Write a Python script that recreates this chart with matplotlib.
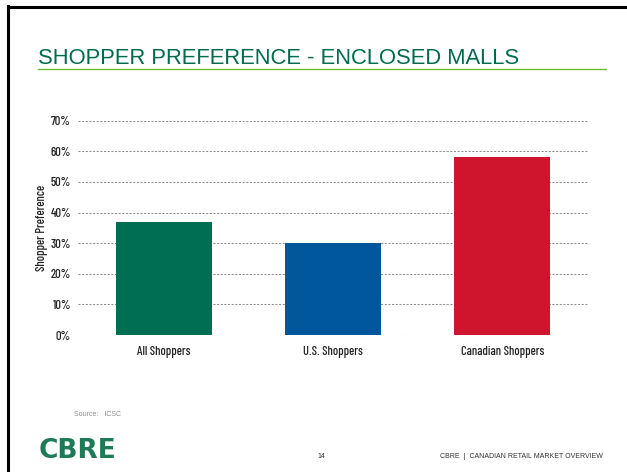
import matplotlib.pyplot as plt
from matplotlib.ticker import PercentFormatter

# Data
categories = ['All Shoppers', 'U.S. Shoppers', 'Canadian Shoppers']
preference = [37, 30, 58]
bar_colors = ['#006F51', '#00579B', '#CF152D']
y_ticks = [0, 10, 20, 30, 40, 50, 60, 70]

narrow = ['Barlow Condensed', 'DejaVu Sans']
plt.rcParams['font.family'] = ['Liberation Sans', 'DejaVu Sans']

fig = plt.figure(figsize=(6.27, 4.72), dpi=100)

# slide frame (top and left edge only)
fig.add_artist(plt.Line2D([7.5 / 627, 7.5 / 627], [0, 1 - 6 / 472], color='black', lw=2.2))
fig.add_artist(plt.Line2D([7.5 / 627, 1], [1 - 7 / 472, 1 - 7 / 472], color='black', lw=2.2))

# title and rule
fig.text(38 / 627, 1 - 58 / 472, 'SHOPPER PREFERENCE - ENCLOSED MALLS', color='#006A4E',
         fontsize=15.8, va='center', ha='left')
fig.add_artist(plt.Line2D([38 / 627, 606 / 627], [1 - 68.5 / 472, 1 - 68.5 / 472],
                          color='#6CBE2C', lw=1.0))

ax = fig.add_axes([78 / 627, 1 - 335 / 472, (588 - 78) / 627, (335 - 120.7) / 472])
x = range(len(categories))
ax.bar(x, preference, width=0.565, color=bar_colors, zorder=2)
ax.set_xlim(-0.506, 2.506)
ax.set_ylim(0, 70)
ax.set_yticks(y_ticks)
ax.yaxis.set_major_formatter(PercentFormatter(decimals=0))
ax.set_xticks(list(x))
ax.set_xticklabels(categories, family=narrow, fontsize=9, fontweight='medium', color='#222222')
for lbl in ax.get_yticklabels():
    lbl.set_family(narrow)
    lbl.set_fontsize(9)
    lbl.set_fontweight('medium')
    lbl.set_color('#222222')
ax.tick_params(length=0, pad=5)
ax.tick_params(axis='x', pad=8)
ax.grid(axis='y', color='#8F8F8F', linestyle=(0, (2.0, 1.5)), lw=0.75, zorder=1)
ax.set_axisbelow(True)
for s in ax.spines.values():
    s.set_visible(False)
ax.set_ylabel('Shopper Preference', family=narrow, fontsize=9, fontweight='medium',
              color='#222222', labelpad=2)

# footer
fig.text(74 / 627, 1 - 415 / 472, 'Source:   ICSC', color='#8C8C8C', fontsize=5, va='center')
fig.text(39 / 627, 1 - 451 / 472, 'CBRE', color='#1F7A57', fontsize=19, fontweight='bold',
         family='DejaVu Sans', va='center', ha='left')
fig.text(321 / 627, 1 - 456 / 472, '14', color='#333333', fontsize=5, va='center', ha='center')
fig.text(603 / 627, 1 - 456 / 472, 'CBRE  |  CANADIAN RETAIL MARKET OVERVIEW', color='#333333',
         fontsize=5, va='center', ha='right')

fig.savefig('out.png', dpi=100)
